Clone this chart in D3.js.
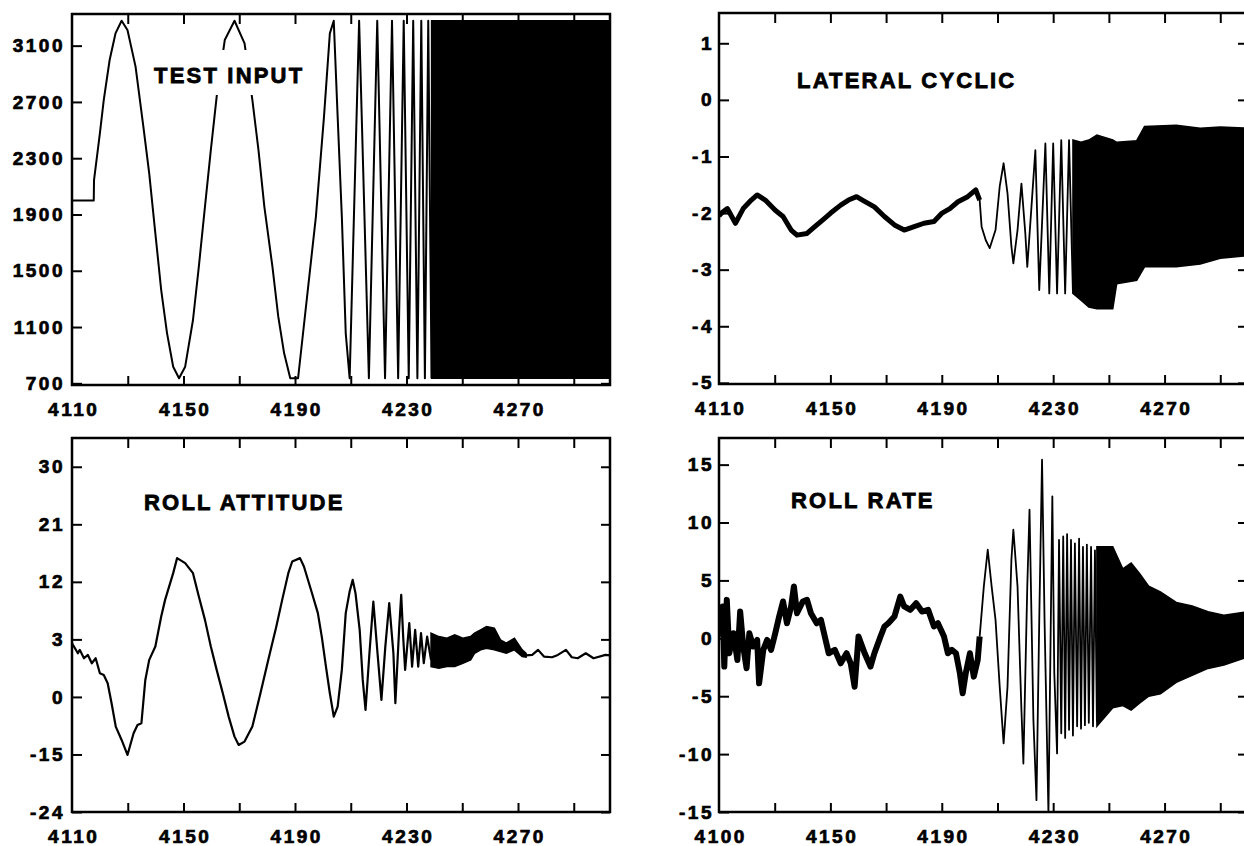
<!DOCTYPE html>
<html>
<head>
<meta charset="utf-8">
<script src="https://cdn.jsdelivr.net/npm/d3@7"></script>
<style>
  html, body { margin: 0; padding: 0; background: #fff; }
  svg text { font-family: "Liberation Sans", Arial, Helvetica, sans-serif; font-weight: bold; fill: #000; }
</style>
</head>
<body>
<svg id="chart" width="1244" height="846"></svg>
<script>
// ---- data: [time, value] ----

// TEST INPUT (sweep command, counts)
const testInput = [[4110,2000],[4117.8,2000],[4117.9,2145],[4120.0,2477],[4121.4,2714],[4123.5,2998],[4125.6,3187],
  [4127.8,3277],[4129.9,3211],[4132.8,2951],[4135.6,2524],[4137.7,2192],[4139.9,1766],[4142.0,1363],[4144.1,1055],
  [4146.3,818],[4148.4,736],[4150.6,818],[4153.4,1150],[4155.5,1529],[4157.7,1956],[4159.8,2358],[4161.9,2737],
  [4164.8,3140],[4168.3,3277],[4171.9,3116],[4174.7,2714],[4176.9,2358],[4179.0,1956],[4181.9,1529],[4184.0,1174],
  [4186.1,913],[4188.3,736],[4191.1,736],[4197.5,1885],[4200.4,2595],[4202.5,3187],[4203.9,3277],[4205.3,2595],
  [4206.8,1885],[4208.2,1055],[4209.6,736],[4213.0,3277],[4216.5,736],[4219.5,3277],[4222.3,736],[4224.8,3277],
  [4227.0,736],[4229.0,3277],[4230.8,736],[4232.4,3277],[4233.9,736],[4235.3,3277],[4236.6,736],[4237.8,3277],[4239.0,736]];
// dense part: [time, upper, lower]
const testInputBand = [[4239.0,3277,736],[4303,3277,736]];

// LATERAL CYCLIC
const lateralNoise = [[4110,-2.05],[4110.9,-2.00],[4113.0,-1.92],[4115.9,-2.18],[4118.7,-1.92],[4121.6,-1.77],[4123.7,-1.68],
  [4126.6,-1.77],[4130.2,-1.95],[4133.0,-2.06],[4135.9,-2.30],[4138.0,-2.39],[4141.6,-2.36],[4144.4,-2.24],[4147.3,-2.12],
  [4150.1,-2.00],[4153.7,-1.86],[4156.5,-1.77],[4159.4,-1.71],[4161.5,-1.77],[4165.8,-1.89],[4169.4,-2.06],[4173.0,-2.21],
  [4176.5,-2.30],[4180.1,-2.24],[4183.6,-2.18],[4187.2,-2.15],[4190.1,-2.00],[4192.9,-1.92],[4195.8,-1.80],[4199.3,-1.71],
  [4202.2,-1.59],[4203.6,-1.77]];
const lateralSweep = [[4203.6,-1.77],[4204.3,-2.24],[4205.8,-2.48],[4207.2,-2.62],[4209.3,-2.30],[4210.8,-1.53],[4212.2,-1.12],
  [4213.6,-1.65],[4215.0,-2.59],[4215.7,-2.89],[4217.2,-2.30],[4218.6,-1.48],[4220.0,-2.36],[4220.7,-2.95],[4222.2,-1.89],
  [4223.6,-0.89],[4225.0,-3.36],[4227.2,-0.77],[4228.6,-3.42],[4230.0,-0.77],[4231.4,-3.42],[4232.9,-0.71],[4234.3,-3.42],
  [4235.7,-0.71],[4237.1,-3.42]];
const lateralBand = [[4237.1,-0.71,-3.42],[4240.0,-0.75,-3.54],[4242.8,-0.71,-3.66],[4245.7,-0.62,-3.69],[4251.4,-0.71,-3.69],
  [4252.8,-0.75,-3.25],[4260.0,-0.72,-3.19],[4262.8,-0.47,-2.95],[4274.2,-0.45,-2.95],[4282.8,-0.50,-2.90],[4290,-0.48,-2.80],
  [4300,-0.50,-2.75]];

// ROLL ATTITUDE
const rollAttitude = [[4110,2.4],[4110.7,1.88],[4112.1,0.83],[4112.8,1.36],[4114.3,0.05],[4115.7,0.57],[4117.1,-0.73],
  [4118.5,0.05],[4120.0,-2.30],[4121.4,-2.56],[4122.8,-3.86],[4124.2,-6.99],[4125.7,-10.64],[4127.8,-12.73],[4129.9,-15.08],
  [4132.1,-11.69],[4133.5,-10.38],[4134.9,-10.12],[4136.3,-3.34],[4137.7,-0.21],[4139.9,1.88],[4142.0,6.57],[4143.4,9.18],
  [4146.3,13.36],[4147.7,15.71],[4150.6,14.92],[4153.4,13.36],[4155.5,9.70],[4157.7,6.05],[4159.8,1.88],[4161.9,-1.77],
  [4164.1,-5.43],[4166.2,-9.08],[4168.3,-12.21],[4169.8,-13.51],[4171.9,-12.99],[4174.7,-10.64],[4177.6,-5.43],[4180.4,-0.21],
  [4183.3,5.01],[4185.4,9.18],[4187.6,13.36],[4189.0,15.18],[4191.8,15.71],[4193.2,14.40],[4196.1,10.22],[4198.2,7.10],
  [4199.6,3.44],[4201.1,-1.25],[4202.5,-5.43],[4203.9,-9.08],[4205.3,-7.51],[4206.8,-1.77],[4208.2,7.10],[4209.6,10.49],
  [4210.7,12.31],[4211.7,10.22],[4213.2,4.49],[4214.3,-3.34],[4215.3,-8.03],[4216.7,0.83],[4218.1,8.92],[4219.6,0.83],
  [4221.0,-6.47],[4222.4,1.88],[4223.8,8.66],[4225.3,0.83],[4226.0,-6.99],[4227.4,5.01],[4228.1,9.96],[4228.8,3.44],
  [4229.5,-1.77],[4231.0,5.53],[4232.0,-1.25],[4233.1,4.49],[4234.2,-1.25],[4235.2,3.97],[4236.2,-0.73],[4237.4,3.44],
  [4238.8,-0.21]];
const rollAttitudeBand = [[4238.8,3.97,-1.25],[4241.6,3.44,-1.51],[4244.5,3.18,-1.25],[4247.3,3.70,-1.25],[4250.2,3.18,-0.73],
  [4253.0,3.44,-0.21],[4254.4,3.97,0.83],[4256.6,4.49,1.36],[4258.7,5.01,1.62],[4261.5,4.75,1.36],[4263.7,2.92,1.09],
  [4265.8,2.40,0.83],[4268.7,3.18,1.36],[4271.5,1.36,0.31],[4272.9,0.83,0.21]];
const rollAttitudeTail = [[4272.9,0.5],[4275.1,0.57],[4277.2,1.36],[4279.3,0.31],[4282.2,0.21],[4284.3,0.57],[4287.2,1.36],
  [4289.3,0.21],[4291.4,0.05],[4294.3,0.83],[4297.1,0.05],[4301.4,0.57],[4303,0.5]];

// ROLL RATE
const rollRateNoise = [[4110.2,0.15],[4111.3,2.75],[4111.9,-2.44],[4112.8,3.32],[4113.7,-1.29],[4115.2,0.44],[4116.6,-1.87],
  [4117.6,2.31],[4118.7,-0.71],[4119.9,-2.59],[4120.9,0.44],[4122.3,-0.71],[4123.7,-0.14],[4124.4,-3.89],[4125.9,-1.0],
  [4127.3,-0.14],[4128.7,-1.0],[4130.2,0.44],[4131.6,1.88],[4133.0,3.18],[4134.4,1.30],[4135.9,2.75],[4136.9,4.48],
  [4138.0,2.17],[4140.1,3.18],[4141.6,3.32],[4143.0,2.17],[4145.1,1.30],[4146.6,1.59],[4148.0,0.15],[4149.4,-1.29],
  [4151.6,-1.0],[4153.7,-2.16],[4155.8,-1.29],[4157.3,-2.16],[4158.7,-4.18],[4160.1,0.15],[4162.3,-1.29],[4164.4,-2.44],
  [4165.8,-1.29],[4168.0,0.15],[4169.4,1.02],[4170.8,1.30],[4173.0,1.88],[4175.1,3.61],[4176.5,2.75],[4178.7,2.46],
  [4180.8,3.03],[4182.9,2.31],[4185.1,2.46],[4187.2,1.02],[4188.6,1.30],[4190.8,0.15],[4192.2,-1.29],[4193.6,-1.0],
  [4195.1,-1.29],[4196.5,-3.02],[4197.5,-4.75],[4198.6,-3.02],[4200.1,-1.29],[4201.5,-3.31],[4202.9,-1.87],[4203.6,0.15]];
const rollRateSweep = [[4203.6,0.15],[4205.1,4.48],[4206.5,7.65],[4207.9,4.48],[4209.3,1.59],[4210.8,-4.18],[4212.2,-9.08],
  [4213.6,-4.18],[4215.0,6.78],[4215.7,9.38],[4217.2,4.48],[4218.6,-6.19],[4219.3,-10.81],[4220.7,4.48],[4221.5,11.11],
  [4222.9,-7.06],[4224.0,-13.98],[4225.0,1.59],[4226.0,15.43],[4226.9,1.59],[4228.3,-15.13],[4229.7,12.26],[4230.4,-3.0],
  [4231.4,-9.94],[4232.1,8.5],[4232.9,-8.2],[4233.6,8.8],[4234.3,-8.6],[4235.0,9.0],[4235.7,-7.9],[4236.4,8.5],
  [4237.1,-8.4],[4237.8,8.2],[4238.6,-7.6],[4239.3,8.6],[4240.0,-7.8],[4240.7,7.9],[4241.4,-7.5],[4242.1,8.1],
  [4242.8,-7.3],[4243.6,7.9],[4244.3,-7.6],[4245.0,7.6],[4245.7,-7.2]];
const rollRateBand = [[4245.7,7.9,-7.6],[4251.4,7.9,-6.0],[4255,6.0,-5.8],[4258,6.5,-6.2],[4261,5.6,-5.6],[4264.3,4.5,-5.0],
  [4268.5,4.0,-4.8],[4274.2,3.1,-3.8],[4279.9,2.8,-3.2],[4285.6,2.3,-2.6],[4291.3,2.0,-2.3],[4300,2.3,-1.6]];

// ---- axes: tick values and printed labels ----
const xMinorTicks = [4130, 4150, 4170, 4190, 4210, 4230, 4250, 4270, 4290];
const xLabelTicks = [4110, 4150, 4190, 4230, 4270];
const xLabels = ["4110", "4150", "4190", "4230", "4270"];
const xLabelsRollRate = ["4100", "4150", "4190", "4230", "4270"];

const testInputTicks = [700, 1100, 1500, 1900, 2300, 2700, 3100];
const lateralTicks = [-5, -4, -3, -2, -1, 0, 1];
const rollAttitudeTicks = [-24, -15, -6, 3, 12, 21, 30];
const rollAttitudeLabels = ["-24", "-15", "0", "3", "12", "21", "30"]; // printed as on the original
const rollRateTicks = [-15, -10, -5, 0, 5, 10, 15];

const titles = ["TEST INPUT", "LATERAL CYCLIC", "ROLL ATTITUDE", "ROLL RATE"];

// ---- panel layout ----
const svg = d3.select('#chart');

const panels = [
  { title: titles[0], box: [72, 610, 14, 385], xDom: [4110, 4303], yDom: [688, 3325],
    yTicks: testInputTicks, yLabels: null, xLab: xLabels, lab: [154, 83], pad: 7,
    lines: [[testInput, 2]], bands: [testInputBand] },
  { title: titles[1], box: [719, 1247, 13, 384], xDom: [4110, 4299.6], yDom: [-5.02, 1.535],
    yTicks: lateralTicks, yLabels: null, xLab: xLabels, lab: [797, 88], pad: 5,
    lines: [[lateralNoise, 5], [lateralSweep, 1.8]], bands: [lateralBand] },
  { title: titles[2], box: [72, 610, 438, 812], xDom: [4110, 4303], yDom: [-24, 34.5],
    yTicks: rollAttitudeTicks, yLabels: rollAttitudeLabels, xLab: xLabels, lab: [144, 510], pad: 7,
    lines: [[rollAttitude, 2.2], [rollAttitudeTail, 2.2]], bands: [rollAttitudeBand] },
  { title: titles[3], box: [719, 1247, 438, 812], xDom: [4110, 4299.6], yDom: [-15, 17.3],
    yTicks: rollRateTicks, yLabels: null, xLab: xLabelsRollRate, lab: [791, 508], pad: 5,
    lines: [[rollRateNoise, 6], [rollRateSweep, 1.8]], bands: [rollRateBand] }
];

panels.forEach((p, i) => {
  const [x0, x1, y0, y1] = p.box;
  const x = d3.scaleLinear().domain(p.xDom).range([x0, x1]);
  const y = d3.scaleLinear().domain(p.yDom).range([y1, y0]);
  const g = svg.append('g').attr('class', 'panel');

  // 数据裁剪区
  g.append('clipPath').attr('id', 'clip' + i)
    .append('rect').attr('x', x0).attr('y', y0).attr('width', x1 - x0).attr('height', y1 - y0);
  const plot = g.append('g').attr('clip-path', `url(#clip${i})`);

  const area = d3.area().x(d => x(d[0])).y0(d => y(d[2])).y1(d => y(d[1]));
  p.bands.forEach(b => {
    plot.append('path').datum(b).attr('d', area)
      .attr('fill', '#000').attr('stroke', '#000').attr('stroke-width', 1.5);
  });

  const line = d3.line().x(d => x(d[0])).y(d => y(d[1]));
  p.lines.forEach(([data, w]) => {
    plot.append('path').datum(data).attr('d', line)
      .attr('fill', 'none').attr('stroke', '#000')
      .attr('stroke-width', w).attr('stroke-linejoin', 'round');
  });

  // title with white backing (the trace is broken under it in the original)
  const t = g.append('text').attr('x', p.lab[0]).attr('y', p.lab[1])
    .attr('font-size', 22).attr('letter-spacing', '2.2px')
    .attr('stroke', '#000').attr('stroke-width', 0.8).text(p.title);
  const bb = t.node().getBBox();
  g.insert('rect', 'text').attr('x', bb.x - 8).attr('y', bb.y - 13)
    .attr('width', bb.width + 12).attr('height', bb.height + 20).attr('fill', '#fff');

  // axes
  const styleAxis = sel => {
    sel.select('.domain').remove();
    sel.selectAll('.tick line').attr('stroke', '#000').attr('stroke-width', 2);
    sel.selectAll('.tick text').attr('font-size', 19).attr('letter-spacing', '2.5px')
      .attr('font-family', '"Liberation Sans", Arial, sans-serif').attr('font-weight', 'bold')
      .attr('fill', '#000').attr('stroke', '#000').attr('stroke-width', 0.7);
  };

  const yLab = p.yLabels;
  g.append('g').attr('transform', `translate(${x0},0)`)
    .call(d3.axisLeft(y).tickValues(p.yTicks).tickSize(-10).tickPadding(p.pad)
      .tickFormat((d, k) => yLab ? yLab[k] : String(d)))
    .call(styleAxis);
  g.append('g').attr('transform', `translate(${x1},0)`)
    .call(d3.axisRight(y).tickValues(p.yTicks).tickSize(-9).tickFormat(''))
    .call(styleAxis);
  g.append('g').attr('transform', `translate(0,${y0})`)
    .call(d3.axisTop(x).tickValues(xMinorTicks).tickSize(-10).tickFormat(''))
    .call(styleAxis);
  g.append('g').attr('transform', `translate(0,${y1})`)
    .call(d3.axisBottom(x).tickValues(xMinorTicks).tickSize(-9).tickFormat(''))
    .call(styleAxis);
  g.append('g').attr('transform', `translate(0,${y1})`)
    .call(d3.axisBottom(x).tickValues(xLabelTicks).tickSize(0).tickPadding(18)
      .tickFormat((d, k) => p.xLab[k]))
    .call(styleAxis)
    .selectAll('.tick text').attr('dx', '1.2px');

  // frame
  g.append('rect').attr('x', x0).attr('y', y0).attr('width', x1 - x0).attr('height', y1 - y0)
    .attr('fill', 'none').attr('stroke', '#000').attr('stroke-width', 2.5);
});
</script>
</body>
</html>
